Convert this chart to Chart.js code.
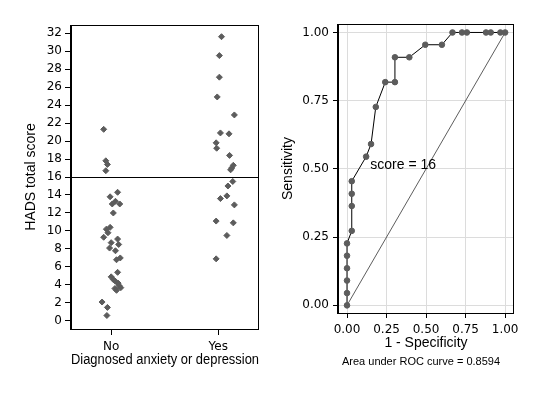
<!DOCTYPE html>
<html>
<head>
<meta charset="utf-8">
<title>HADS score and ROC curve</title>
<script src="https://cdn.jsdelivr.net/npm/chart.js@4.4.1/dist/chart.umd.min.js"></script>
<style>
  html, body { margin: 0; padding: 0; background: #fff; }
  #wrap { position: relative; width: 537px; height: 393px; }
  canvas { position: absolute; top: 0; }
  #left { left: 0; }
  #right { left: 270px; }
</style>
</head>
<body>
<div id="wrap">
  <canvas id="left" width="270" height="393"></canvas>
  <canvas id="right" width="267" height="393"></canvas>
</div>
<script>
// strip plot: HADS score by diagnosis (jitter = horizontal offset)
const categories = ['No', 'Yes'];
const noScores = [21.3, 17.8, 17.4, 16.7, 14.3, 13.8, 13.3, 13.0, 13.0, 12.0,
  10.4, 10.2, 9.8, 9.3, 9.1, 8.7, 8.5, 8.1, 7.8, 7.0, 6.8,
  5.4, 4.9, 4.6, 4.4, 4.2, 3.9, 3.6, 3.4, 3.7, 2.1, 1.5, 0.6];
const noJitter = [-0.07, -0.05, -0.035, -0.05, 0.06, -0.01, 0.04, 0.01, 0.08, 0.02,
  -0.01, -0.045, -0.03, -0.07, 0.06, 0.0, 0.07, -0.015, 0.04, 0.085, 0.05,
  0.06, 0.0, 0.02, 0.04, 0.065, 0.075, 0.035, 0.05, 0.09, -0.085, -0.035, -0.04];
const yesScores = [31.6, 29.5, 27.1, 24.9, 22.9, 20.9, 20.8, 19.8, 19.2, 18.4, 17.3,
  17.0, 16.8, 15.5, 15.0, 13.9, 13.6, 12.9, 11.1, 10.9, 9.5, 6.9];
const yesJitter = [0.03, 0.01, 0.01, -0.01, 0.15, 0.02, 0.10, -0.02, -0.015, 0.105, 0.14,
  0.125, 0.115, 0.135, 0.09, 0.08, 0.02, 0.15, -0.02, 0.14, 0.08, -0.02];
const scoreTicks = [0, 2, 4, 6, 8, 10, 12, 14, 16, 18, 20, 22, 24, 26, 28, 30, 32];
const cutoff = 16;

// ROC curve
const rocFpr = [0, 0, 0, 0, 0, 0, 0.030, 0.030, 0.030, 0.030, 0.121, 0.152, 0.182,
  0.242, 0.303, 0.303, 0.394, 0.495, 0.600, 0.667, 0.727, 0.758, 0.879, 0.909, 0.970, 1];
const rocSens = [0, 0.045, 0.091, 0.136, 0.182, 0.227, 0.273, 0.364, 0.409, 0.455, 0.545, 0.591, 0.727,
  0.818, 0.818, 0.909, 0.909, 0.955, 0.955, 1, 1, 1, 1, 1, 1, 1];
const rocTicks = [0, 0.25, 0.5, 0.75, 1];
const cutoffLabel = { text: 'score = 16', x: 0.147, y: 0.512 };
const aucText = 'Area under ROC curve = 0.8594';

const markerColor = '#5c5c5c';
const titleFont = { family: 'Liberation Sans', size: 14 };

Chart.defaults.font.family = 'DejaVu Sans';
Chart.defaults.font.size = 12;
Chart.defaults.color = '#000';

// box round the plot area, left side heavier
const framePlugin = {
  id: 'frame',
  beforeDatasetsDraw(chart) {
    const { ctx, chartArea: a } = chart;
    const l = Math.round(a.left), r = Math.round(a.right);
    const t = Math.round(a.top), b = Math.round(a.bottom);
    ctx.save();
    ctx.strokeStyle = '#000';
    ctx.lineWidth = 1;
    ctx.strokeRect(l + 0.5, t + 0.5, r - l - 1, b - t);
    ctx.lineWidth = 2;
    ctx.beginPath();
    ctx.moveTo(l, t);
    ctx.lineTo(l, b + 1);
    ctx.stroke();
    ctx.restore();
  }
};

const cutoffPlugin = {
  id: 'cutoffLine',
  beforeDatasetsDraw(chart) {
    const { ctx, chartArea: a, scales } = chart;
    const y = Math.round(scales.y.getPixelForValue(cutoff)) + 0.5;
    ctx.save();
    ctx.strokeStyle = '#000';
    ctx.lineWidth = 1;
    ctx.beginPath();
    ctx.moveTo(a.left, y);
    ctx.lineTo(a.right, y);
    ctx.stroke();
    ctx.restore();
  }
};

const rocTextPlugin = {
  id: 'rocText',
  afterDraw(chart) {
    const { ctx, chartArea: a, scales } = chart;
    ctx.save();
    ctx.fillStyle = '#000';
    ctx.font = '14px "Liberation Sans"';
    ctx.textAlign = 'left';
    ctx.textBaseline = 'middle';
    ctx.fillText(cutoffLabel.text, scales.x.getPixelForValue(cutoffLabel.x), scales.y.getPixelForValue(cutoffLabel.y));
    ctx.font = '11px "Liberation Sans"';
    ctx.textAlign = 'center';
    ctx.fillText(aucText, (a.left + a.right) / 2 - 5, a.bottom + 49);
    ctx.restore();
  }
};

function toPoints(xs, ys) {
  return xs.map((x, i) => ({ x: x, y: ys[i] }));
}

new Chart(document.getElementById('left'), {
  type: 'scatter',
  data: {
    datasets: [
      {
        label: categories[0],
        data: noScores.map((v, i) => ({ x: 0 + noJitter[i], y: v })),
        pointStyle: 'rectRot',
        pointRadius: 3,
        borderWidth: 1,
        backgroundColor: markerColor,
        borderColor: markerColor
      },
      {
        label: categories[1],
        data: yesScores.map((v, i) => ({ x: 1 + yesJitter[i], y: v })),
        pointStyle: 'rectRot',
        pointRadius: 3,
        borderWidth: 1,
        backgroundColor: markerColor,
        borderColor: markerColor
      }
    ]
  },
  options: {
    responsive: false,
    animation: false,
    layout: { padding: { top: 25, right: 11, bottom: 24, left: 0 } },
    plugins: { legend: { display: false }, tooltip: { enabled: false } },
    scales: {
      x: {
        type: 'linear',
        min: -0.375,
        max: 1.38,
        afterBuildTicks: (s) => { s.ticks = categories.map((c, i) => ({ value: i })); },
        afterFit: (s) => { s.height = 40; },
        ticks: {
          autoSkip: false,
          padding: 5,
          callback: (v) => categories[v]
        },
        grid: { drawOnChartArea: false, drawTicks: true, tickLength: 6, color: '#000' },
        border: { display: false },
        title: {
          display: true,
          text: 'Diagnosed anxiety or depression',
          font: titleFont,
          padding: { top: 0, bottom: 0 }
        }
      },
      y: {
        min: -0.9,
        max: 32.9,
        afterBuildTicks: (s) => { s.ticks = scoreTicks.map(v => ({ value: v })); },
        afterFit: (s) => { s.width = 71; },
        ticks: { autoSkip: false, padding: 3 },
        grid: { drawOnChartArea: false, drawTicks: true, tickLength: 6, color: '#000' },
        border: { display: false },
        title: {
          display: true,
          text: 'HADS total score',
          font: titleFont,
          padding: { top: 23, bottom: 0 }
        }
      }
    }
  },
  plugins: [framePlugin, cutoffPlugin]
});

new Chart(document.getElementById('right'), {
  type: 'scatter',
  data: {
    datasets: [
      {
        label: 'ROC',
        data: toPoints(rocFpr, rocSens),
        showLine: true,
        borderColor: '#000',
        borderWidth: 1,
        pointRadius: 2.8,
        pointBorderWidth: 1,
        pointBackgroundColor: markerColor,
        pointBorderColor: markerColor
      },
      {
        label: 'Reference',
        data: [{ x: 0, y: 0 }, { x: 1, y: 1 }],
        showLine: true,
        borderColor: '#333',
        borderWidth: 0.8,
        pointRadius: 0
      }
    ]
  },
  options: {
    responsive: false,
    animation: false,
    layout: { padding: { top: 24, right: 23, bottom: 41, left: 0 } },
    plugins: { legend: { display: false }, tooltip: { enabled: false } },
    scales: {
      x: {
        type: 'linear',
        min: -0.057,
        max: 1.056,
        afterBuildTicks: (s) => { s.ticks = rocTicks.map(v => ({ value: v })); },
        afterFit: (s) => { s.height = 39; },
        ticks: { autoSkip: false, padding: 5, callback: (v) => v.toFixed(2) },
        grid: { color: '#dcdcdc', tickColor: '#000', drawTicks: true, tickLength: 5 },
        border: { display: false },
        title: {
          display: true,
          text: '1 - Specificity',
          font: titleFont,
          padding: { top: 0, bottom: 0 }
        }
      },
      y: {
        min: -0.028,
        max: 1.031,
        afterBuildTicks: (s) => { s.ticks = rocTicks.map(v => ({ value: v })); },
        afterFit: (s) => { s.width = 68; },
        ticks: { autoSkip: false, padding: 4, callback: (v) => v.toFixed(2) },
        grid: { color: '#dcdcdc', tickColor: '#000', drawTicks: true, tickLength: 5 },
        border: { display: false },
        title: {
          display: true,
          text: 'Sensitivity',
          font: titleFont,
          padding: { top: 10, bottom: 0 }
        }
      }
    }
  },
  plugins: [framePlugin, rocTextPlugin]
});
</script>
</body>
</html>
